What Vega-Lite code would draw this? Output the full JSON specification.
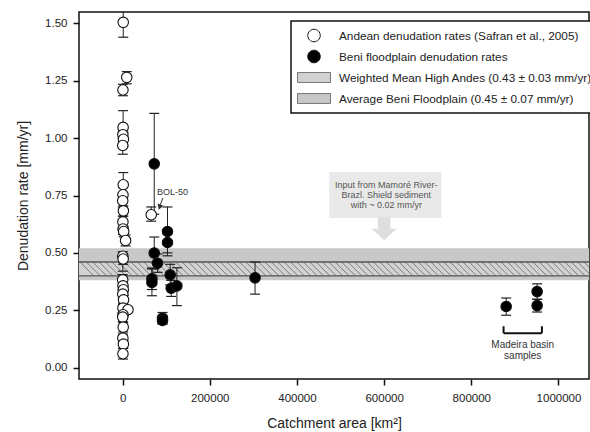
{
  "$schema": "https://vega.github.io/schema/vega-lite/v6.json",
  "width": 510,
  "height": 367,
  "autosize": {"type": "none"},
  "padding": {"left": 79, "top": 12, "right": 1, "bottom": 53},
  "background": "white",
  "datasets": {
    "pts": [
      {"series": "Andean denudation rates (Safran et al., 2005)", "area": 1500, "rate": 1.505, "lo": 1.44, "hi": 1.57},
      {"series": "Andean denudation rates (Safran et al., 2005)", "area": 9500, "rate": 1.265, "lo": 1.237, "hi": 1.29},
      {"series": "Andean denudation rates (Safran et al., 2005)", "area": 800, "rate": 1.21, "lo": 1.185, "hi": 1.235},
      {"series": "Andean denudation rates (Safran et al., 2005)", "area": 1200, "rate": 1.047, "lo": 0.97, "hi": 1.12},
      {"series": "Andean denudation rates (Safran et al., 2005)", "area": 600, "rate": 1.015, "lo": 0.985, "hi": 1.045},
      {"series": "Andean denudation rates (Safran et al., 2005)", "area": 2000, "rate": 0.995, "lo": 0.965, "hi": 1.025},
      {"series": "Andean denudation rates (Safran et al., 2005)", "area": 400, "rate": 0.968, "lo": 0.93, "hi": 1.0},
      {"series": "Andean denudation rates (Safran et al., 2005)", "area": 1500, "rate": 0.797, "lo": 0.745, "hi": 0.85},
      {"series": "Andean denudation rates (Safran et al., 2005)", "area": 900, "rate": 0.753, "lo": 0.72, "hi": 0.785},
      {"series": "Andean denudation rates (Safran et al., 2005)", "area": 300, "rate": 0.727, "lo": 0.7, "hi": 0.755},
      {"series": "Andean denudation rates (Safran et al., 2005)", "area": 1800, "rate": 0.683, "lo": 0.66, "hi": 0.705},
      {"series": "Andean denudation rates (Safran et al., 2005)", "area": 700, "rate": 0.635, "lo": 0.61, "hi": 0.66},
      {"series": "Andean denudation rates (Safran et al., 2005)", "area": 1100, "rate": 0.604, "lo": 0.58, "hi": 0.63},
      {"series": "Andean denudation rates (Safran et al., 2005)", "area": 2500, "rate": 0.593, "lo": 0.57, "hi": 0.615},
      {"series": "Andean denudation rates (Safran et al., 2005)", "area": 6900, "rate": 0.554, "lo": 0.53, "hi": 0.578},
      {"series": "Andean denudation rates (Safran et al., 2005)", "area": 500, "rate": 0.485, "lo": 0.42, "hi": 0.505},
      {"series": "Andean denudation rates (Safran et al., 2005)", "area": 1300, "rate": 0.473, "lo": 0.45, "hi": 0.496},
      {"series": "Andean denudation rates (Safran et al., 2005)", "area": 200, "rate": 0.382, "lo": 0.36, "hi": 0.405},
      {"series": "Andean denudation rates (Safran et al., 2005)", "area": 900, "rate": 0.356, "lo": 0.335, "hi": 0.378},
      {"series": "Andean denudation rates (Safran et al., 2005)", "area": 1600, "rate": 0.339, "lo": 0.318, "hi": 0.36},
      {"series": "Andean denudation rates (Safran et al., 2005)", "area": 400, "rate": 0.32, "lo": 0.3, "hi": 0.34},
      {"series": "Andean denudation rates (Safran et al., 2005)", "area": 2200, "rate": 0.295, "lo": 0.275, "hi": 0.315},
      {"series": "Andean denudation rates (Safran et al., 2005)", "area": 700, "rate": 0.259, "lo": 0.24, "hi": 0.278},
      {"series": "Andean denudation rates (Safran et al., 2005)", "area": 12400, "rate": 0.252, "lo": 0.252, "hi": 0.252},
      {"series": "Andean denudation rates (Safran et al., 2005)", "area": 1000, "rate": 0.23, "lo": 0.21, "hi": 0.25},
      {"series": "Andean denudation rates (Safran et al., 2005)", "area": 300, "rate": 0.22, "lo": 0.2, "hi": 0.24},
      {"series": "Andean denudation rates (Safran et al., 2005)", "area": 1400, "rate": 0.176, "lo": 0.155, "hi": 0.197},
      {"series": "Andean denudation rates (Safran et al., 2005)", "area": 600, "rate": 0.128, "lo": 0.11, "hi": 0.146},
      {"series": "Andean denudation rates (Safran et al., 2005)", "area": 1900, "rate": 0.102, "lo": 0.085, "hi": 0.12},
      {"series": "Andean denudation rates (Safran et al., 2005)", "area": 800, "rate": 0.06, "lo": 0.037, "hi": 0.083},
      {"series": "Andean denudation rates (Safran et al., 2005)", "area": 65700, "rate": 0.666, "lo": 0.638, "hi": 0.7},
      {"series": "Beni floodplain denudation rates", "area": 72600, "rate": 0.888, "lo": 0.668, "hi": 1.108},
      {"series": "Beni floodplain denudation rates", "area": 103000, "rate": 0.593, "lo": 0.487, "hi": 0.7},
      {"series": "Beni floodplain denudation rates", "area": 103000, "rate": 0.545, "lo": 0.5, "hi": 0.59},
      {"series": "Beni floodplain denudation rates", "area": 72600, "rate": 0.499, "lo": 0.43, "hi": 0.569},
      {"series": "Beni floodplain denudation rates", "area": 80100, "rate": 0.455, "lo": 0.415, "hi": 0.495},
      {"series": "Beni floodplain denudation rates", "area": 67300, "rate": 0.387, "lo": 0.34, "hi": 0.434},
      {"series": "Beni floodplain denudation rates", "area": 67300, "rate": 0.371, "lo": 0.313, "hi": 0.43},
      {"series": "Beni floodplain denudation rates", "area": 109200, "rate": 0.404, "lo": 0.36, "hi": 0.45},
      {"series": "Beni floodplain denudation rates", "area": 111500, "rate": 0.346, "lo": 0.31, "hi": 0.38},
      {"series": "Beni floodplain denudation rates", "area": 124600, "rate": 0.356, "lo": 0.27, "hi": 0.435},
      {"series": "Beni floodplain denudation rates", "area": 91600, "rate": 0.215, "lo": 0.19, "hi": 0.24},
      {"series": "Beni floodplain denudation rates", "area": 91600, "rate": 0.205, "lo": 0.19, "hi": 0.22},
      {"series": "Beni floodplain denudation rates", "area": 303900, "rate": 0.391, "lo": 0.32, "hi": 0.46},
      {"series": "Beni floodplain denudation rates", "area": 880000, "rate": 0.266, "lo": 0.228, "hi": 0.303},
      {"series": "Beni floodplain denudation rates", "area": 951000, "rate": 0.331, "lo": 0.297, "hi": 0.365},
      {"series": "Beni floodplain denudation rates", "area": 951000, "rate": 0.27, "lo": 0.242, "hi": 0.298}
    ],
    "bands": [
      {"series": "Average Beni Floodplain (0.45 ± 0.07 mm/yr)", "lo": 0.38, "hi": 0.52},
      {"series": "Weighted Mean High Andes (0.43 ± 0.03 mm/yr)", "lo": 0.40, "hi": 0.46}
    ],
    "inputbox": [
      {"x": 474000, "x2": 731400, "y": 0.652, "y2": 0.852}
    ],
    "inputarrow": [
      {"x": 600000, "y": 0.605}
    ],
    "inputtext": [
      {"x": 605000, "y": 0.797, "text": "Input from Mamoré River-"},
      {"x": 605000, "y": 0.753, "text": "Brazl. Shield sediment"},
      {"x": 605000, "y": 0.71, "text": "with ~ 0.02 mm/yr"}
    ],
    "bol": [
      {"x": 78800, "y": 0.765, "text": "BOL-50", "ax": 92500, "ay": 0.739, "tx": 86000, "ty": 0.708, "hx": 85000, "hy": 0.699}
    ],
    "bracket": [
      {"x": 874000, "x2": 962000, "y": 0.15, "y2": 0.15},
      {"x": 874000, "x2": 874000, "y": 0.15, "y2": 0.18},
      {"x": 962000, "x2": 962000, "y": 0.15, "y2": 0.18}
    ],
    "madeira": [
      {"x": 918000, "y": 0.099, "text": "Madeira basin"},
      {"x": 918000, "y": 0.051, "text": "samples"}
    ]
  },
  "layer": [
    {
      "data": {"name": "pts"},
      "transform": [{"filter": "datum.rate > 100"}],
      "mark": {"type": "point", "filled": true, "strokeWidth": 1, "size": 760, "opacity": 1},
      "encoding": {
        "x": {"field": "area", "type": "quantitative"},
        "y": {"field": "rate", "type": "quantitative"},
        "fill": {
          "field": "series", "type": "nominal", "title": null,
          "scale": {
            "domain": ["Andean denudation rates (Safran et al., 2005)", "Beni floodplain denudation rates", "Weighted Mean High Andes (0.43 ± 0.03 mm/yr)", "Average Beni Floodplain (0.45 ± 0.07 mm/yr)"],
            "range": ["#ffffff", "#000000", "#d2d2d2", "#c8c8c8"]
          }
        },
        "stroke": {
          "field": "series", "type": "nominal", "title": null,
          "scale": {
            "domain": ["Andean denudation rates (Safran et al., 2005)", "Beni floodplain denudation rates", "Weighted Mean High Andes (0.43 ± 0.03 mm/yr)", "Average Beni Floodplain (0.45 ± 0.07 mm/yr)"],
            "range": ["#111111", "#111111", "#777777", "#777777"]
          }
        },
        "shape": {
          "field": "series", "type": "nominal", "title": null,
          "scale": {
            "domain": ["Andean denudation rates (Safran et al., 2005)", "Beni floodplain denudation rates", "Weighted Mean High Andes (0.43 ± 0.03 mm/yr)", "Average Beni Floodplain (0.45 ± 0.07 mm/yr)"],
            "range": ["M-0.38,0A0.38,0.38,0,1,0,0.38,0A0.38,0.38,0,1,0,-0.38,0Z", "M-0.38,0A0.38,0.38,0,1,0,0.38,0A0.38,0.38,0,1,0,-0.38,0Z", "M-1,-0.3H1V0.3H-1Z", "M-1,-0.3H1V0.3H-1Z"]
          }
        }
      }
    },
    {
      "data": {"name": "bands"},
      "mark": {"type": "rect", "opacity": 1},
      "encoding": {
        "y": {"field": "lo", "type": "quantitative"},
        "y2": {"field": "hi"},
        "fill": {"field": "series", "type": "nominal", "title": null}
      }
    },
    {
      "data": {"name": "bands"},
      "transform": [{"filter": "datum.hi < 0.5"}],
      "mark": {
        "type": "rect",
        "fill": {
          "gradient": "linear", "x1": 0, "y1": 0, "x2": 1, "y2": -0.027,
          "stops": [
            {"offset": 0, "color": "rgba(125,125,125,0)"}, {"offset": 0.002, "color": "#7d7d7d"}, {"offset": 0.004, "color": "rgba(125,125,125,0)"},
            {"offset": 0.0125, "color": "rgba(125,125,125,0)"}, {"offset": 0.0145, "color": "#7d7d7d"}, {"offset": 0.0165, "color": "rgba(125,125,125,0)"},
            {"offset": 0.025, "color": "rgba(125,125,125,0)"}, {"offset": 0.027, "color": "#7d7d7d"}, {"offset": 0.029, "color": "rgba(125,125,125,0)"},
            {"offset": 0.0375, "color": "rgba(125,125,125,0)"}, {"offset": 0.0395, "color": "#7d7d7d"}, {"offset": 0.0415, "color": "rgba(125,125,125,0)"},
            {"offset": 0.05, "color": "rgba(125,125,125,0)"}, {"offset": 0.052, "color": "#7d7d7d"}, {"offset": 0.054, "color": "rgba(125,125,125,0)"},
            {"offset": 0.0625, "color": "rgba(125,125,125,0)"}, {"offset": 0.0645, "color": "#7d7d7d"}, {"offset": 0.0665, "color": "rgba(125,125,125,0)"},
            {"offset": 0.075, "color": "rgba(125,125,125,0)"}, {"offset": 0.077, "color": "#7d7d7d"}, {"offset": 0.079, "color": "rgba(125,125,125,0)"},
            {"offset": 0.0875, "color": "rgba(125,125,125,0)"}, {"offset": 0.0895, "color": "#7d7d7d"}, {"offset": 0.0915, "color": "rgba(125,125,125,0)"},
            {"offset": 0.1, "color": "rgba(125,125,125,0)"}, {"offset": 0.102, "color": "#7d7d7d"}, {"offset": 0.104, "color": "rgba(125,125,125,0)"},
            {"offset": 0.1125, "color": "rgba(125,125,125,0)"}, {"offset": 0.1145, "color": "#7d7d7d"}, {"offset": 0.1165, "color": "rgba(125,125,125,0)"},
            {"offset": 0.125, "color": "rgba(125,125,125,0)"}, {"offset": 0.127, "color": "#7d7d7d"}, {"offset": 0.129, "color": "rgba(125,125,125,0)"},
            {"offset": 0.1375, "color": "rgba(125,125,125,0)"}, {"offset": 0.1395, "color": "#7d7d7d"}, {"offset": 0.1415, "color": "rgba(125,125,125,0)"},
            {"offset": 0.15, "color": "rgba(125,125,125,0)"}, {"offset": 0.152, "color": "#7d7d7d"}, {"offset": 0.154, "color": "rgba(125,125,125,0)"},
            {"offset": 0.1625, "color": "rgba(125,125,125,0)"}, {"offset": 0.1645, "color": "#7d7d7d"}, {"offset": 0.1665, "color": "rgba(125,125,125,0)"},
            {"offset": 0.175, "color": "rgba(125,125,125,0)"}, {"offset": 0.177, "color": "#7d7d7d"}, {"offset": 0.179, "color": "rgba(125,125,125,0)"},
            {"offset": 0.1875, "color": "rgba(125,125,125,0)"}, {"offset": 0.1895, "color": "#7d7d7d"}, {"offset": 0.1915, "color": "rgba(125,125,125,0)"},
            {"offset": 0.2, "color": "rgba(125,125,125,0)"}, {"offset": 0.202, "color": "#7d7d7d"}, {"offset": 0.204, "color": "rgba(125,125,125,0)"},
            {"offset": 0.2125, "color": "rgba(125,125,125,0)"}, {"offset": 0.2145, "color": "#7d7d7d"}, {"offset": 0.2165, "color": "rgba(125,125,125,0)"},
            {"offset": 0.225, "color": "rgba(125,125,125,0)"}, {"offset": 0.227, "color": "#7d7d7d"}, {"offset": 0.229, "color": "rgba(125,125,125,0)"},
            {"offset": 0.2375, "color": "rgba(125,125,125,0)"}, {"offset": 0.2395, "color": "#7d7d7d"}, {"offset": 0.2415, "color": "rgba(125,125,125,0)"},
            {"offset": 0.25, "color": "rgba(125,125,125,0)"}, {"offset": 0.252, "color": "#7d7d7d"}, {"offset": 0.254, "color": "rgba(125,125,125,0)"},
            {"offset": 0.2625, "color": "rgba(125,125,125,0)"}, {"offset": 0.2645, "color": "#7d7d7d"}, {"offset": 0.2665, "color": "rgba(125,125,125,0)"},
            {"offset": 0.275, "color": "rgba(125,125,125,0)"}, {"offset": 0.277, "color": "#7d7d7d"}, {"offset": 0.279, "color": "rgba(125,125,125,0)"},
            {"offset": 0.2875, "color": "rgba(125,125,125,0)"}, {"offset": 0.2895, "color": "#7d7d7d"}, {"offset": 0.2915, "color": "rgba(125,125,125,0)"},
            {"offset": 0.3, "color": "rgba(125,125,125,0)"}, {"offset": 0.302, "color": "#7d7d7d"}, {"offset": 0.304, "color": "rgba(125,125,125,0)"},
            {"offset": 0.3125, "color": "rgba(125,125,125,0)"}, {"offset": 0.3145, "color": "#7d7d7d"}, {"offset": 0.3165, "color": "rgba(125,125,125,0)"},
            {"offset": 0.325, "color": "rgba(125,125,125,0)"}, {"offset": 0.327, "color": "#7d7d7d"}, {"offset": 0.329, "color": "rgba(125,125,125,0)"},
            {"offset": 0.3375, "color": "rgba(125,125,125,0)"}, {"offset": 0.3395, "color": "#7d7d7d"}, {"offset": 0.3415, "color": "rgba(125,125,125,0)"},
            {"offset": 0.35, "color": "rgba(125,125,125,0)"}, {"offset": 0.352, "color": "#7d7d7d"}, {"offset": 0.354, "color": "rgba(125,125,125,0)"},
            {"offset": 0.3625, "color": "rgba(125,125,125,0)"}, {"offset": 0.3645, "color": "#7d7d7d"}, {"offset": 0.3665, "color": "rgba(125,125,125,0)"},
            {"offset": 0.375, "color": "rgba(125,125,125,0)"}, {"offset": 0.377, "color": "#7d7d7d"}, {"offset": 0.379, "color": "rgba(125,125,125,0)"},
            {"offset": 0.3875, "color": "rgba(125,125,125,0)"}, {"offset": 0.3895, "color": "#7d7d7d"}, {"offset": 0.3915, "color": "rgba(125,125,125,0)"},
            {"offset": 0.4, "color": "rgba(125,125,125,0)"}, {"offset": 0.402, "color": "#7d7d7d"}, {"offset": 0.404, "color": "rgba(125,125,125,0)"},
            {"offset": 0.4125, "color": "rgba(125,125,125,0)"}, {"offset": 0.4145, "color": "#7d7d7d"}, {"offset": 0.4165, "color": "rgba(125,125,125,0)"},
            {"offset": 0.425, "color": "rgba(125,125,125,0)"}, {"offset": 0.427, "color": "#7d7d7d"}, {"offset": 0.429, "color": "rgba(125,125,125,0)"},
            {"offset": 0.4375, "color": "rgba(125,125,125,0)"}, {"offset": 0.4395, "color": "#7d7d7d"}, {"offset": 0.4415, "color": "rgba(125,125,125,0)"},
            {"offset": 0.45, "color": "rgba(125,125,125,0)"}, {"offset": 0.452, "color": "#7d7d7d"}, {"offset": 0.454, "color": "rgba(125,125,125,0)"},
            {"offset": 0.4625, "color": "rgba(125,125,125,0)"}, {"offset": 0.4645, "color": "#7d7d7d"}, {"offset": 0.4665, "color": "rgba(125,125,125,0)"},
            {"offset": 0.475, "color": "rgba(125,125,125,0)"}, {"offset": 0.477, "color": "#7d7d7d"}, {"offset": 0.479, "color": "rgba(125,125,125,0)"},
            {"offset": 0.4875, "color": "rgba(125,125,125,0)"}, {"offset": 0.4895, "color": "#7d7d7d"}, {"offset": 0.4915, "color": "rgba(125,125,125,0)"},
            {"offset": 0.5, "color": "rgba(125,125,125,0)"}, {"offset": 0.502, "color": "#7d7d7d"}, {"offset": 0.504, "color": "rgba(125,125,125,0)"},
            {"offset": 0.5125, "color": "rgba(125,125,125,0)"}, {"offset": 0.5145, "color": "#7d7d7d"}, {"offset": 0.5165, "color": "rgba(125,125,125,0)"},
            {"offset": 0.525, "color": "rgba(125,125,125,0)"}, {"offset": 0.527, "color": "#7d7d7d"}, {"offset": 0.529, "color": "rgba(125,125,125,0)"},
            {"offset": 0.5375, "color": "rgba(125,125,125,0)"}, {"offset": 0.5395, "color": "#7d7d7d"}, {"offset": 0.5415, "color": "rgba(125,125,125,0)"},
            {"offset": 0.55, "color": "rgba(125,125,125,0)"}, {"offset": 0.552, "color": "#7d7d7d"}, {"offset": 0.554, "color": "rgba(125,125,125,0)"},
            {"offset": 0.5625, "color": "rgba(125,125,125,0)"}, {"offset": 0.5645, "color": "#7d7d7d"}, {"offset": 0.5665, "color": "rgba(125,125,125,0)"},
            {"offset": 0.575, "color": "rgba(125,125,125,0)"}, {"offset": 0.577, "color": "#7d7d7d"}, {"offset": 0.579, "color": "rgba(125,125,125,0)"},
            {"offset": 0.5875, "color": "rgba(125,125,125,0)"}, {"offset": 0.5895, "color": "#7d7d7d"}, {"offset": 0.5915, "color": "rgba(125,125,125,0)"},
            {"offset": 0.6, "color": "rgba(125,125,125,0)"}, {"offset": 0.602, "color": "#7d7d7d"}, {"offset": 0.604, "color": "rgba(125,125,125,0)"},
            {"offset": 0.6125, "color": "rgba(125,125,125,0)"}, {"offset": 0.6145, "color": "#7d7d7d"}, {"offset": 0.6165, "color": "rgba(125,125,125,0)"},
            {"offset": 0.625, "color": "rgba(125,125,125,0)"}, {"offset": 0.627, "color": "#7d7d7d"}, {"offset": 0.629, "color": "rgba(125,125,125,0)"},
            {"offset": 0.6375, "color": "rgba(125,125,125,0)"}, {"offset": 0.6395, "color": "#7d7d7d"}, {"offset": 0.6415, "color": "rgba(125,125,125,0)"},
            {"offset": 0.65, "color": "rgba(125,125,125,0)"}, {"offset": 0.652, "color": "#7d7d7d"}, {"offset": 0.654, "color": "rgba(125,125,125,0)"},
            {"offset": 0.6625, "color": "rgba(125,125,125,0)"}, {"offset": 0.6645, "color": "#7d7d7d"}, {"offset": 0.6665, "color": "rgba(125,125,125,0)"},
            {"offset": 0.675, "color": "rgba(125,125,125,0)"}, {"offset": 0.677, "color": "#7d7d7d"}, {"offset": 0.679, "color": "rgba(125,125,125,0)"},
            {"offset": 0.6875, "color": "rgba(125,125,125,0)"}, {"offset": 0.6895, "color": "#7d7d7d"}, {"offset": 0.6915, "color": "rgba(125,125,125,0)"},
            {"offset": 0.7, "color": "rgba(125,125,125,0)"}, {"offset": 0.702, "color": "#7d7d7d"}, {"offset": 0.704, "color": "rgba(125,125,125,0)"},
            {"offset": 0.7125, "color": "rgba(125,125,125,0)"}, {"offset": 0.7145, "color": "#7d7d7d"}, {"offset": 0.7165, "color": "rgba(125,125,125,0)"},
            {"offset": 0.725, "color": "rgba(125,125,125,0)"}, {"offset": 0.727, "color": "#7d7d7d"}, {"offset": 0.729, "color": "rgba(125,125,125,0)"},
            {"offset": 0.7375, "color": "rgba(125,125,125,0)"}, {"offset": 0.7395, "color": "#7d7d7d"}, {"offset": 0.7415, "color": "rgba(125,125,125,0)"},
            {"offset": 0.75, "color": "rgba(125,125,125,0)"}, {"offset": 0.752, "color": "#7d7d7d"}, {"offset": 0.754, "color": "rgba(125,125,125,0)"},
            {"offset": 0.7625, "color": "rgba(125,125,125,0)"}, {"offset": 0.7645, "color": "#7d7d7d"}, {"offset": 0.7665, "color": "rgba(125,125,125,0)"},
            {"offset": 0.775, "color": "rgba(125,125,125,0)"}, {"offset": 0.777, "color": "#7d7d7d"}, {"offset": 0.779, "color": "rgba(125,125,125,0)"},
            {"offset": 0.7875, "color": "rgba(125,125,125,0)"}, {"offset": 0.7895, "color": "#7d7d7d"}, {"offset": 0.7915, "color": "rgba(125,125,125,0)"},
            {"offset": 0.8, "color": "rgba(125,125,125,0)"}, {"offset": 0.802, "color": "#7d7d7d"}, {"offset": 0.804, "color": "rgba(125,125,125,0)"},
            {"offset": 0.8125, "color": "rgba(125,125,125,0)"}, {"offset": 0.8145, "color": "#7d7d7d"}, {"offset": 0.8165, "color": "rgba(125,125,125,0)"},
            {"offset": 0.825, "color": "rgba(125,125,125,0)"}, {"offset": 0.827, "color": "#7d7d7d"}, {"offset": 0.829, "color": "rgba(125,125,125,0)"},
            {"offset": 0.8375, "color": "rgba(125,125,125,0)"}, {"offset": 0.8395, "color": "#7d7d7d"}, {"offset": 0.8415, "color": "rgba(125,125,125,0)"},
            {"offset": 0.85, "color": "rgba(125,125,125,0)"}, {"offset": 0.852, "color": "#7d7d7d"}, {"offset": 0.854, "color": "rgba(125,125,125,0)"},
            {"offset": 0.8625, "color": "rgba(125,125,125,0)"}, {"offset": 0.8645, "color": "#7d7d7d"}, {"offset": 0.8665, "color": "rgba(125,125,125,0)"},
            {"offset": 0.875, "color": "rgba(125,125,125,0)"}, {"offset": 0.877, "color": "#7d7d7d"}, {"offset": 0.879, "color": "rgba(125,125,125,0)"},
            {"offset": 0.8875, "color": "rgba(125,125,125,0)"}, {"offset": 0.8895, "color": "#7d7d7d"}, {"offset": 0.8915, "color": "rgba(125,125,125,0)"},
            {"offset": 0.9, "color": "rgba(125,125,125,0)"}, {"offset": 0.902, "color": "#7d7d7d"}, {"offset": 0.904, "color": "rgba(125,125,125,0)"},
            {"offset": 0.9125, "color": "rgba(125,125,125,0)"}, {"offset": 0.9145, "color": "#7d7d7d"}, {"offset": 0.9165, "color": "rgba(125,125,125,0)"},
            {"offset": 0.925, "color": "rgba(125,125,125,0)"}, {"offset": 0.927, "color": "#7d7d7d"}, {"offset": 0.929, "color": "rgba(125,125,125,0)"},
            {"offset": 0.9375, "color": "rgba(125,125,125,0)"}, {"offset": 0.9395, "color": "#7d7d7d"}, {"offset": 0.9415, "color": "rgba(125,125,125,0)"},
            {"offset": 0.95, "color": "rgba(125,125,125,0)"}, {"offset": 0.952, "color": "#7d7d7d"}, {"offset": 0.954, "color": "rgba(125,125,125,0)"},
            {"offset": 0.9625, "color": "rgba(125,125,125,0)"}, {"offset": 0.9645, "color": "#7d7d7d"}, {"offset": 0.9665, "color": "rgba(125,125,125,0)"},
            {"offset": 0.975, "color": "rgba(125,125,125,0)"}, {"offset": 0.977, "color": "#7d7d7d"}, {"offset": 0.979, "color": "rgba(125,125,125,0)"},
            {"offset": 0.9875, "color": "rgba(125,125,125,0)"}, {"offset": 0.9895, "color": "#7d7d7d"}, {"offset": 0.9915, "color": "rgba(125,125,125,0)"}
          ]
        }
      },
      "encoding": {
        "y": {"field": "lo", "type": "quantitative"},
        "y2": {"field": "hi"}
      }
    },
    {
      "data": {"name": "bands"},
      "transform": [{"filter": "datum.hi < 0.5"}],
      "mark": {"type": "rule", "color": "#555", "strokeWidth": 1.3},
      "encoding": {"y": {"field": "lo", "type": "quantitative"}}
    },
    {
      "data": {"name": "bands"},
      "transform": [{"filter": "datum.hi < 0.5"}],
      "mark": {"type": "rule", "color": "#555", "strokeWidth": 1.3},
      "encoding": {"y": {"field": "hi", "type": "quantitative"}}
    },
    {
      "data": {"name": "inputbox"},
      "mark": {"type": "rect", "fill": "#e9e9e9"},
      "encoding": {
        "x": {"field": "x", "type": "quantitative"},
        "x2": {"field": "x2"},
        "y": {"field": "y", "type": "quantitative"},
        "y2": {"field": "y2"}
      }
    },
    {
      "data": {"name": "inputarrow"},
      "mark": {"type": "point", "filled": true, "shape": "M-0.55,-1H0.55V0H1.09L0,1L-1.09,0H-0.55Z", "size": 529, "fill": "#dedede", "strokeWidth": 0, "opacity": 1},
      "encoding": {
        "x": {"field": "x", "type": "quantitative"},
        "y": {"field": "y", "type": "quantitative"}
      }
    },
    {
      "data": {"name": "inputtext"},
      "mark": {"type": "text", "font": "Liberation Sans", "fontSize": 9, "color": "#555", "align": "center", "baseline": "middle"},
      "encoding": {
        "x": {"field": "x", "type": "quantitative"},
        "y": {"field": "y", "type": "quantitative"},
        "text": {"field": "text"}
      }
    },
    {
      "data": {"name": "pts"},
      "mark": {"type": "rule", "color": "#222", "strokeWidth": 1, "clip": true},
      "encoding": {
        "x": {"field": "area", "type": "quantitative"},
        "y": {"field": "lo", "type": "quantitative"},
        "y2": {"field": "hi"}
      }
    },
    {
      "data": {"name": "pts"},
      "mark": {"type": "tick", "orient": "horizontal", "size": 10, "thickness": 1.2, "color": "#222", "opacity": 1, "clip": true},
      "encoding": {
        "x": {"field": "area", "type": "quantitative"},
        "y": {"field": "lo", "type": "quantitative"}
      }
    },
    {
      "data": {"name": "pts"},
      "mark": {"type": "tick", "orient": "horizontal", "size": 10, "thickness": 1.2, "color": "#222", "opacity": 1, "clip": true},
      "encoding": {
        "x": {"field": "area", "type": "quantitative"},
        "y": {"field": "hi", "type": "quantitative"}
      }
    },
    {
      "data": {"name": "pts"},
      "mark": {"type": "point", "filled": true, "stroke": "#111", "strokeWidth": 1.1, "size": 760, "opacity": 1},
      "encoding": {
        "x": {"field": "area", "type": "quantitative"},
        "y": {"field": "rate", "type": "quantitative"},
        "fill": {"field": "series", "type": "nominal", "title": null},
        "shape": {"field": "series", "type": "nominal", "title": null}
      }
    },
    {
      "data": {"name": "bol"},
      "mark": {"type": "text", "font": "Liberation Sans", "fontSize": 9, "color": "#333", "align": "left", "baseline": "middle"},
      "encoding": {
        "x": {"field": "x", "type": "quantitative"},
        "y": {"field": "y", "type": "quantitative"},
        "text": {"field": "text"}
      }
    },
    {
      "data": {"name": "bol"},
      "mark": {"type": "rule", "color": "#333", "strokeWidth": 1},
      "encoding": {
        "x": {"field": "ax", "type": "quantitative"},
        "x2": {"field": "tx"},
        "y": {"field": "ay", "type": "quantitative"},
        "y2": {"field": "ty"}
      }
    },
    {
      "data": {"name": "bol"},
      "mark": {"type": "point", "shape": "triangle-down", "filled": true, "fill": "#333", "size": 40, "angle": 19, "opacity": 1, "strokeWidth": 0},
      "encoding": {
        "x": {"field": "hx", "type": "quantitative"},
        "y": {"field": "hy", "type": "quantitative"}
      }
    },
    {
      "data": {"name": "bracket"},
      "mark": {"type": "rule", "color": "#111", "strokeWidth": 2},
      "encoding": {
        "x": {"field": "x", "type": "quantitative"},
        "x2": {"field": "x2"},
        "y": {"field": "y", "type": "quantitative"},
        "y2": {"field": "y2"}
      }
    },
    {
      "data": {"name": "madeira"},
      "mark": {"type": "text", "font": "Liberation Sans", "fontSize": 10, "color": "#333", "align": "center", "baseline": "middle"},
      "encoding": {
        "x": {"field": "x", "type": "quantitative"},
        "y": {"field": "y", "type": "quantitative"},
        "text": {"field": "text"}
      }
    }
  ],
  "resolve": {"scale": {"fill": "shared", "shape": "shared", "stroke": "shared"}},
  "encoding": {
    "x": {
      "type": "quantitative",
      "scale": {"domain": [-100000, 1070000], "nice": false, "zero": false},
      "axis": {"title": "Catchment area [km²]", "values": [0, 200000, 400000, 600000, 800000, 1000000], "format": "d", "labelPadding": 7, "titlePadding": 13, "labelFlush": false}
    },
    "y": {
      "type": "quantitative",
      "scale": {"domain": [-0.05, 1.55], "nice": false, "zero": false},
      "axis": {"title": "Denudation rate [mm/yr]", "values": [0, 0.25, 0.5, 0.75, 1.0, 1.25, 1.5], "format": ".2f", "labelPadding": 6, "titlePadding": 14}
    }
  },
  "config": {
    "view": {"stroke": "#111", "strokeWidth": 1.5},
    "axis": {
      "grid": false,
      "domain": false,
      "tickColor": "#111",
      "tickWidth": 1.5,
      "tickSize": 6,
      "labelFont": "Liberation Sans",
      "labelFontSize": 11.5,
      "labelColor": "#222",
      "titleFont": "Liberation Sans",
      "titleFontSize": 14,
      "titleFontWeight": "normal",
      "titleColor": "#222"
    },
    "legend": {
      "orient": "none",
      "legendX": 212,
      "legendY": 9,
      "padding": 6,
      "strokeColor": "#111",
      "strokeWidth": 1.5,
      "fillColor": "white",
      "symbolSize": 1089,
      "clipHeight": 17,
      "rowPadding": 4,
      "labelFont": "Liberation Sans",
      "labelFontSize": 11.8,
      "labelColor": "#222",
      "labelOffset": 8,
      "labelLimit": 400,
      "symbolStrokeWidth": 1,
      "symbolOpacity": 1
    }
  }
}
